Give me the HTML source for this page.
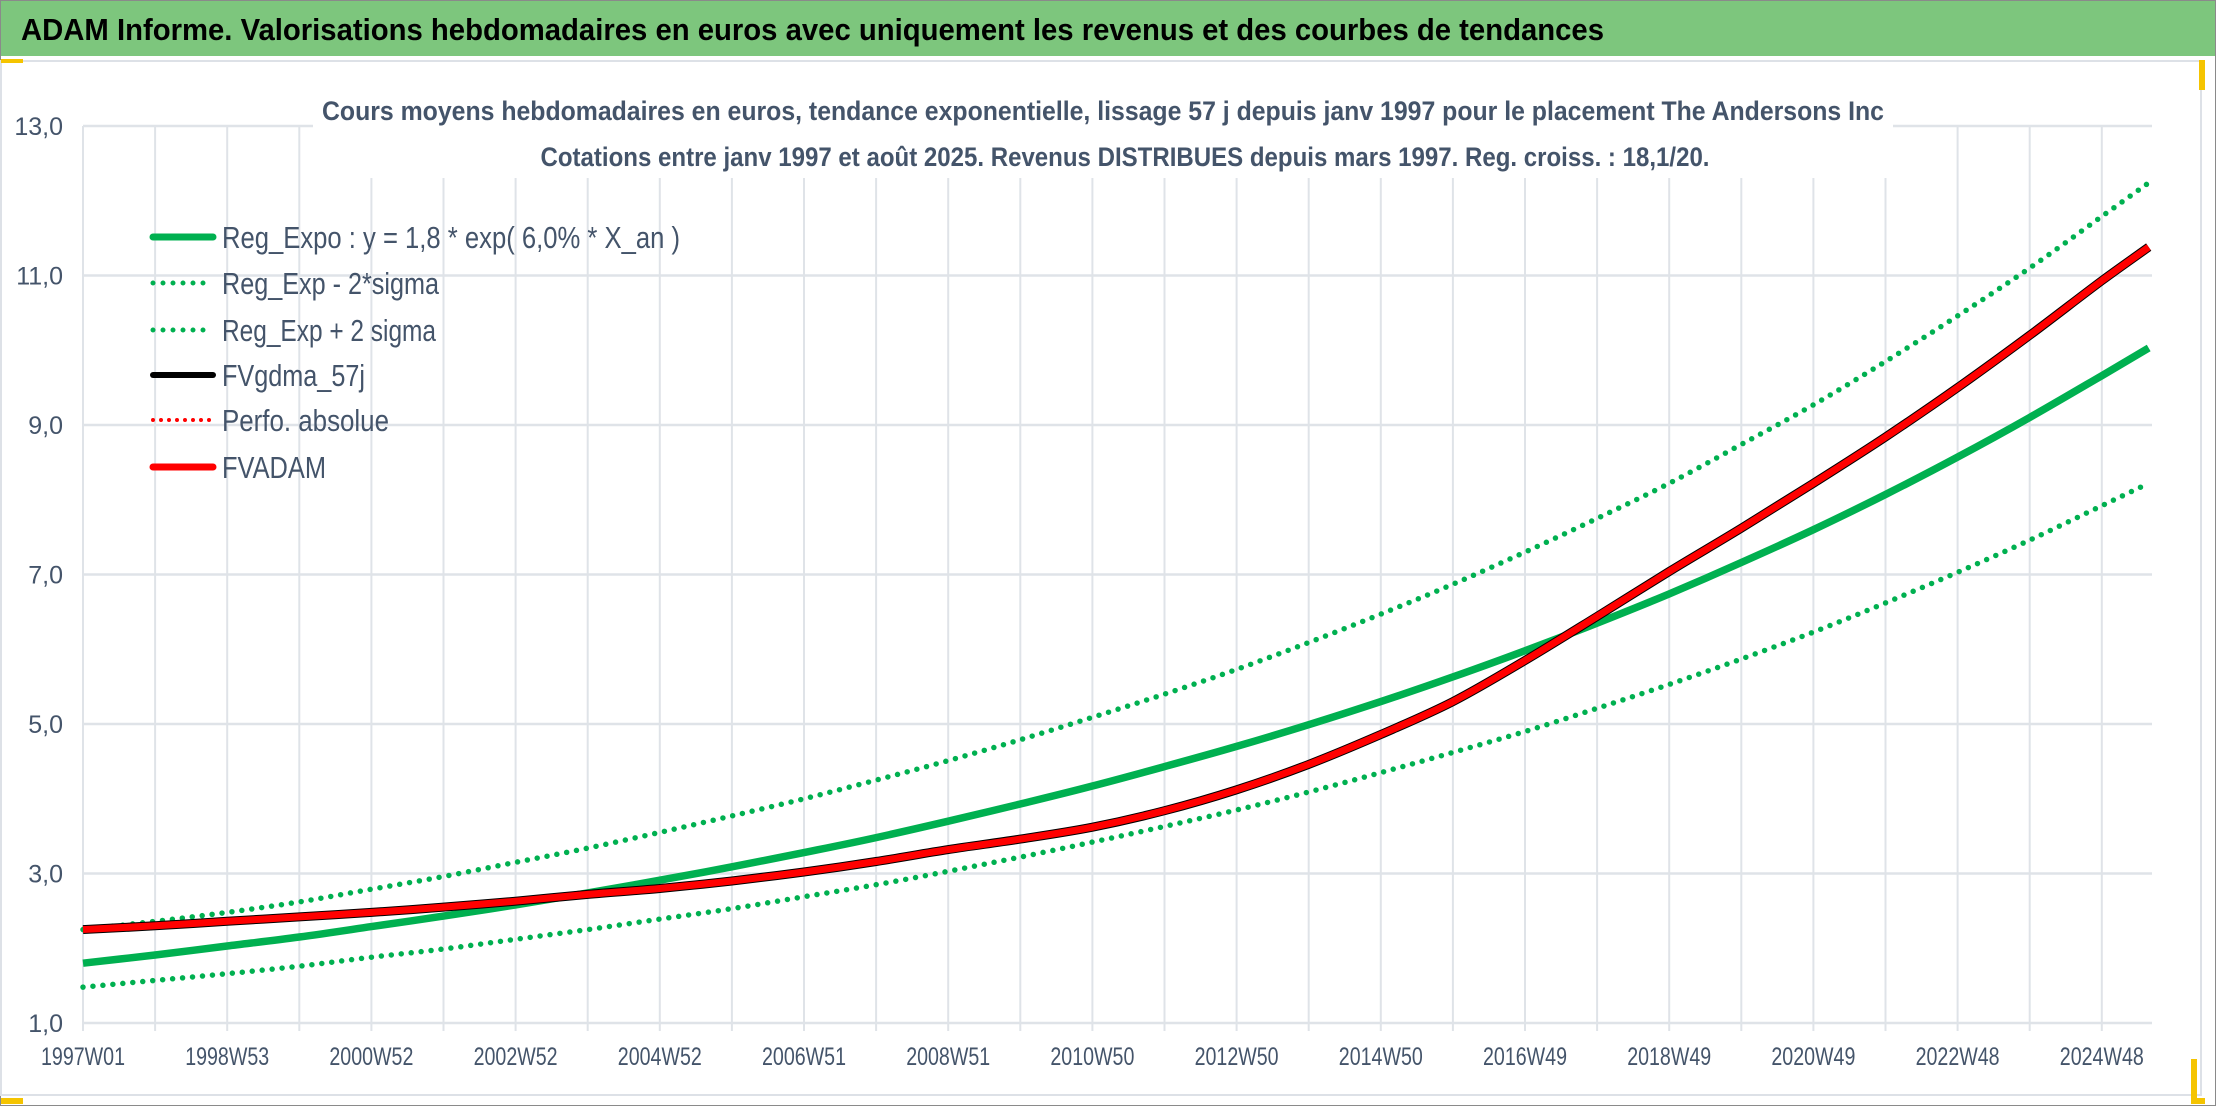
<!DOCTYPE html>
<html><head><meta charset="utf-8">
<style>
html,body{margin:0;padding:0;background:#fff;}
body{width:2216px;height:1106px;overflow:hidden;position:relative;font-family:"Liberation Sans",sans-serif;}
svg{position:absolute;left:0;top:0;}
</style></head>
<body>
<svg id="chart" width="2216" height="1106" viewBox="0 0 2216 1106" xmlns="http://www.w3.org/2000/svg">
  <rect x="0.5" y="0.5" width="2215" height="1105" fill="#fff" stroke="#8a8a8a" stroke-width="1"/>
  <rect x="1" y="1" width="2214" height="55" fill="#7DC67D"/>
  <text x="21" y="40" font-size="31" font-weight="bold" fill="#000" textLength="1583" lengthAdjust="spacingAndGlyphs">ADAM Informe. Valorisations hebdomadaires en euros avec uniquement les revenus et des courbes de tendances</text>
  <rect x="1" y="61" width="2200" height="1034" fill="#fff" stroke="#dde1e7" stroke-width="2"/>
  <rect x="1" y="59" width="22" height="4" fill="#F5C400"/>
  <rect x="1" y="1098" width="22" height="6" fill="#F5C400"/>
  <rect x="2191" y="1059" width="6" height="45" fill="#F5C400"/>
  <rect x="2191" y="1098" width="14" height="6" fill="#F5C400"/>
  <rect x="2199" y="60" width="6" height="30" fill="#F5C400"/>
  <g id="grid"></g>
  <g id="axes"></g>
  <rect x="313" y="84" width="1580" height="94" fill="#fff"/>
  <text x="1103" y="120" font-size="27" font-weight="bold" fill="#44546A" text-anchor="middle" textLength="1562" lengthAdjust="spacingAndGlyphs">Cours moyens hebdomadaires en euros, tendance exponentielle, lissage 57 j depuis janv 1997 pour le placement The Andersons Inc</text>
  <text x="1125" y="166" font-size="27" font-weight="bold" fill="#44546A" text-anchor="middle" textLength="1169" lengthAdjust="spacingAndGlyphs">Cotations entre janv 1997 et août 2025. Revenus DISTRIBUES depuis mars 1997. Reg. croiss. : 18,1/20.</text>
  <g id="series"></g>
  <g id="legend"></g>
</svg>
<script>
// ---- chart data (years since 1997W01, each unit = one gridline of 52 weeks) ----
const tYears = [0,1,2,3,4,5,6,7,8,9,10,11,12,13,14,15,16,17,18,19,20,21,22,23,24,25,26,27,28,28.65];
const regExpo = [1.80,1.91,2.03,2.15,2.29,2.43,2.58,2.74,2.91,3.09,3.28,3.48,3.70,3.93,4.17,4.43,4.70,4.99,5.30,5.63,5.98,6.35,6.74,7.16,7.60,8.07,8.57,9.10,9.66,10.03];
const regMinus = [1.48,1.57,1.66,1.76,1.88,1.99,2.12,2.25,2.39,2.53,2.69,2.85,3.03,3.22,3.42,3.63,3.85,4.09,4.35,4.62,4.90,5.21,5.53,5.87,6.23,6.62,7.03,7.46,7.92,8.22];
const regPlus = [2.25,2.36,2.48,2.62,2.79,2.96,3.15,3.34,3.55,3.77,4.00,4.25,4.51,4.79,5.09,5.40,5.73,6.09,6.47,6.87,7.30,7.75,8.22,8.74,9.27,9.85,10.46,11.10,11.79,12.24];
const fvAdam = [2.25,2.30,2.36,2.42,2.48,2.55,2.63,2.72,2.80,2.90,3.02,3.16,3.32,3.46,3.62,3.84,4.12,4.46,4.86,5.30,5.85,6.44,7.04,7.62,8.22,8.84,9.50,10.20,10.93,11.38];
const yTicks = [1,3,5,7,9,11,13];
const yTickLabels = ["1,0","3,0","5,0","7,0","9,0","11,0","13,0"];
const xTickIdx = [0,2,4,6,8,10,12,14,16,18,20,22,24,26,28];
const xTickLabels = ["1997W01","1998W53","2000W52","2002W52","2004W52","2006W51","2008W51","2010W50","2012W50","2014W50","2016W49","2018W49","2020W49","2022W48","2024W48"];
const legendLabels = ["Reg_Expo : y = 1,8 * exp( 6,0% *  X_an )","Reg_Exp - 2*sigma","Reg_Exp + 2 sigma","FVgdma_57j","Perfo. absolue","FVADAM"];

const NS="http://www.w3.org/2000/svg";
const X0=83, XW=72.1, Y1=1023, YU=74.75, XMAX=2152;
function xs(t){return X0+t*XW;}
function ys(v){return Y1-(v-1)*YU;}
function mk(tag,attrs,parent){const e=document.createElementNS(NS,tag);for(const k in attrs)e.setAttribute(k,attrs[k]);parent.appendChild(e);return e;}

const grid=document.getElementById('grid');
for(let i=0;i<=28;i++){
  const l=mk('line',{x1:xs(i),x2:xs(i),y1:ys(13),y2:Y1+8,stroke:'#dfe3e8','stroke-width':2},grid);
  
  
}
yTicks.forEach(v=>{
  const l=mk('line',{x1:X0,x2:XMAX,y1:ys(v),y2:ys(v),stroke:'#dfe3e8','stroke-width':2.5},grid);
  
  
});
const axes=document.getElementById('axes');
yTicks.forEach((v,i)=>{
  const t=mk('text',{x:63,y:ys(v)+9,'font-size':25,fill:'#44546A','text-anchor':'end'},axes);
  t.textContent=yTickLabels[i];
  
  
});
xTickIdx.forEach((k,i)=>{
  const t=mk('text',{x:xs(k),y:1065,'font-size':25,fill:'#44546A','text-anchor':'middle',textLength:84,lengthAdjust:'spacingAndGlyphs'},axes);
  t.textContent=xTickLabels[i];
  
  
});

function pathFrom(vals){
  const pts=tYears.map((t,i)=>[xs(t),ys(vals[i])]);
  let d='M'+pts[0][0]+','+pts[0][1];
  for(let i=0;i<pts.length-1;i++){
    const p0=pts[Math.max(0,i-1)],p1=pts[i],p2=pts[i+1],p3=pts[Math.min(pts.length-1,i+2)];
    const k1=(p2[0]-p1[0])/(p2[0]-p0[0]||1), k2=(p2[0]-p1[0])/(p3[0]-p1[0]||1);
    const c1=[p1[0]+(p2[0]-p0[0])*k1/3,p1[1]+(p2[1]-p0[1])*k1/3];
    const c2=[p2[0]-(p3[0]-p1[0])*k2/3,p2[1]-(p3[1]-p1[1])*k2/3];
    d+=' C'+c1[0].toFixed(1)+','+c1[1].toFixed(1)+' '+c2[0].toFixed(1)+','+c2[1].toFixed(1)+' '+p2[0].toFixed(1)+','+p2[1].toFixed(1);
  }
  return d;
}
const series=document.getElementById('series');
const sMinus=mk('path',{d:pathFrom(regMinus),fill:'none',stroke:'#00B050','stroke-width':5.5,'stroke-linecap':'round','stroke-dasharray':'0 10'},series);


const sPlus=mk('path',{d:pathFrom(regPlus),fill:'none',stroke:'#00B050','stroke-width':5.5,'stroke-linecap':'round','stroke-dasharray':'0 10'},series);


const sReg=mk('path',{d:pathFrom(regExpo),fill:'none',stroke:'#00B050','stroke-width':7.5},series);


const sBlack=mk('path',{d:pathFrom(fvAdam),fill:'none',stroke:'#000','stroke-width':9},series);


const sRed=mk('path',{d:pathFrom(fvAdam),fill:'none',stroke:'#FF0000','stroke-width':7},series);



const legend=document.getElementById('legend');
const legY=[237,283,330,375,420,467];
const legStyles=[
 {stroke:'#00B050',w:7,dash:null},
 {stroke:'#00B050',w:5,dash:'0 10'},
 {stroke:'#00B050',w:5,dash:'0 10'},
 {stroke:'#000',w:6,dash:null},
 {stroke:'#FF0000',w:4,dash:'0 8'},
 {stroke:'#FF0000',w:7,dash:null}];
const legLen=[458,217,214,143,167,104];
legendLabels.forEach((s,i)=>{
  const st=legStyles[i];
  const a={x1:153,x2:213,y1:legY[i],y2:legY[i],stroke:st.stroke,'stroke-width':st.w,'stroke-linecap':'round'};
  if(st.dash)a['stroke-dasharray']=st.dash;
  const l=mk('line',a,legend);
  
  
  const t=mk('text',{x:222,y:legY[i]+11,'font-size':31,fill:'#44546A',textLength:legLen[i],lengthAdjust:'spacingAndGlyphs'},legend);
  t.textContent=s;
  
  
});
</script>
</body></html>
